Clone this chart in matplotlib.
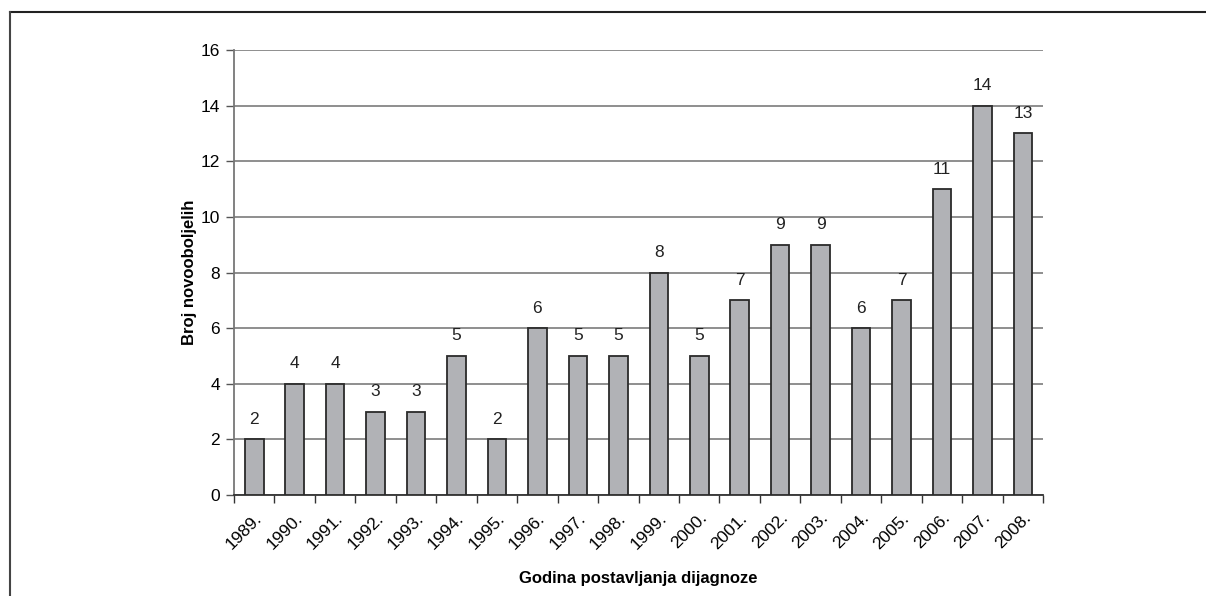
import matplotlib.pyplot as plt
import numpy as np
from matplotlib.lines import Line2D

plt.rcParams["font.family"] = ["Liberation Sans", "DejaVu Sans"]

years = ["1989.", "1990.", "1991.", "1992.", "1993.", "1994.", "1995.", "1996.", "1997.", "1998.",
         "1999.", "2000.", "2001.", "2002.", "2003.", "2004.", "2005.", "2006.", "2007.", "2008."]
cases = [2, 4, 4, 3, 3, 5, 2, 6, 5, 5, 8, 5, 7, 9, 9, 6, 7, 11, 14, 13]

fig = plt.figure(figsize=(12.06, 5.96), dpi=100)
ax = fig.add_axes([0.194, 0.1695, 0.671, 0.7465])

x = np.arange(len(years))
bars = ax.bar(x, cases, width=0.46, color="#b1b2b6", edgecolor="#2a2a2a", linewidth=1.3, zorder=3)

for b, v in zip(bars, cases):
    ax.annotate(str(v), (b.get_x() + b.get_width() / 2, v), xytext=(0, 9),
                textcoords="offset points", ha="center", va="bottom", fontsize=12.5, color="#222222")

ax.set_xlim(-0.5, len(years) - 0.5)
ax.set_ylim(0, 16)
ax.set_yticks(np.arange(0, 17, 2))
ax.yaxis.grid(True, color="#707070", linewidth=1.1, zorder=0)

ax.set_xticks(np.arange(-0.5, len(years), 1.0))
ax.set_xticklabels([])
ax.set_xticks(x, minor=True)
ax.set_xticklabels(years, minor=True, rotation=45, ha="right", rotation_mode="anchor", fontsize=12.5)
ax.tick_params(axis="x", which="minor", length=0, pad=11)
ax.tick_params(axis="x", which="major", length=6, width=1, color="#333333", direction="out")
ax.tick_params(axis="y", length=6, width=1, color="#555555", labelsize=12.5, pad=4)

for s in ["top", "right"]:
    ax.spines[s].set_visible(False)
ax.spines["left"].set_color("#777777")
ax.spines["left"].set_linewidth(1.3)
ax.spines["bottom"].set_color("#333333")
ax.spines["bottom"].set_linewidth(1.3)

ax.set_ylabel("Broj novooboljelih", fontsize=12, fontweight="bold", labelpad=3)
ax.set_xlabel("Godina postavljanja dijagnoze", fontsize=12, fontweight="bold", labelpad=14)

# outer frame (top and left only)
fig.add_artist(Line2D([10 / 1206, 1.0], [1 - 12 / 596, 1 - 12 / 596], color="#222222", linewidth=1.5))
fig.add_artist(Line2D([10 / 1206, 10 / 1206], [0, 1 - 12 / 596], color="#444444", linewidth=1.5))

fig.savefig("out.png", dpi=100)
